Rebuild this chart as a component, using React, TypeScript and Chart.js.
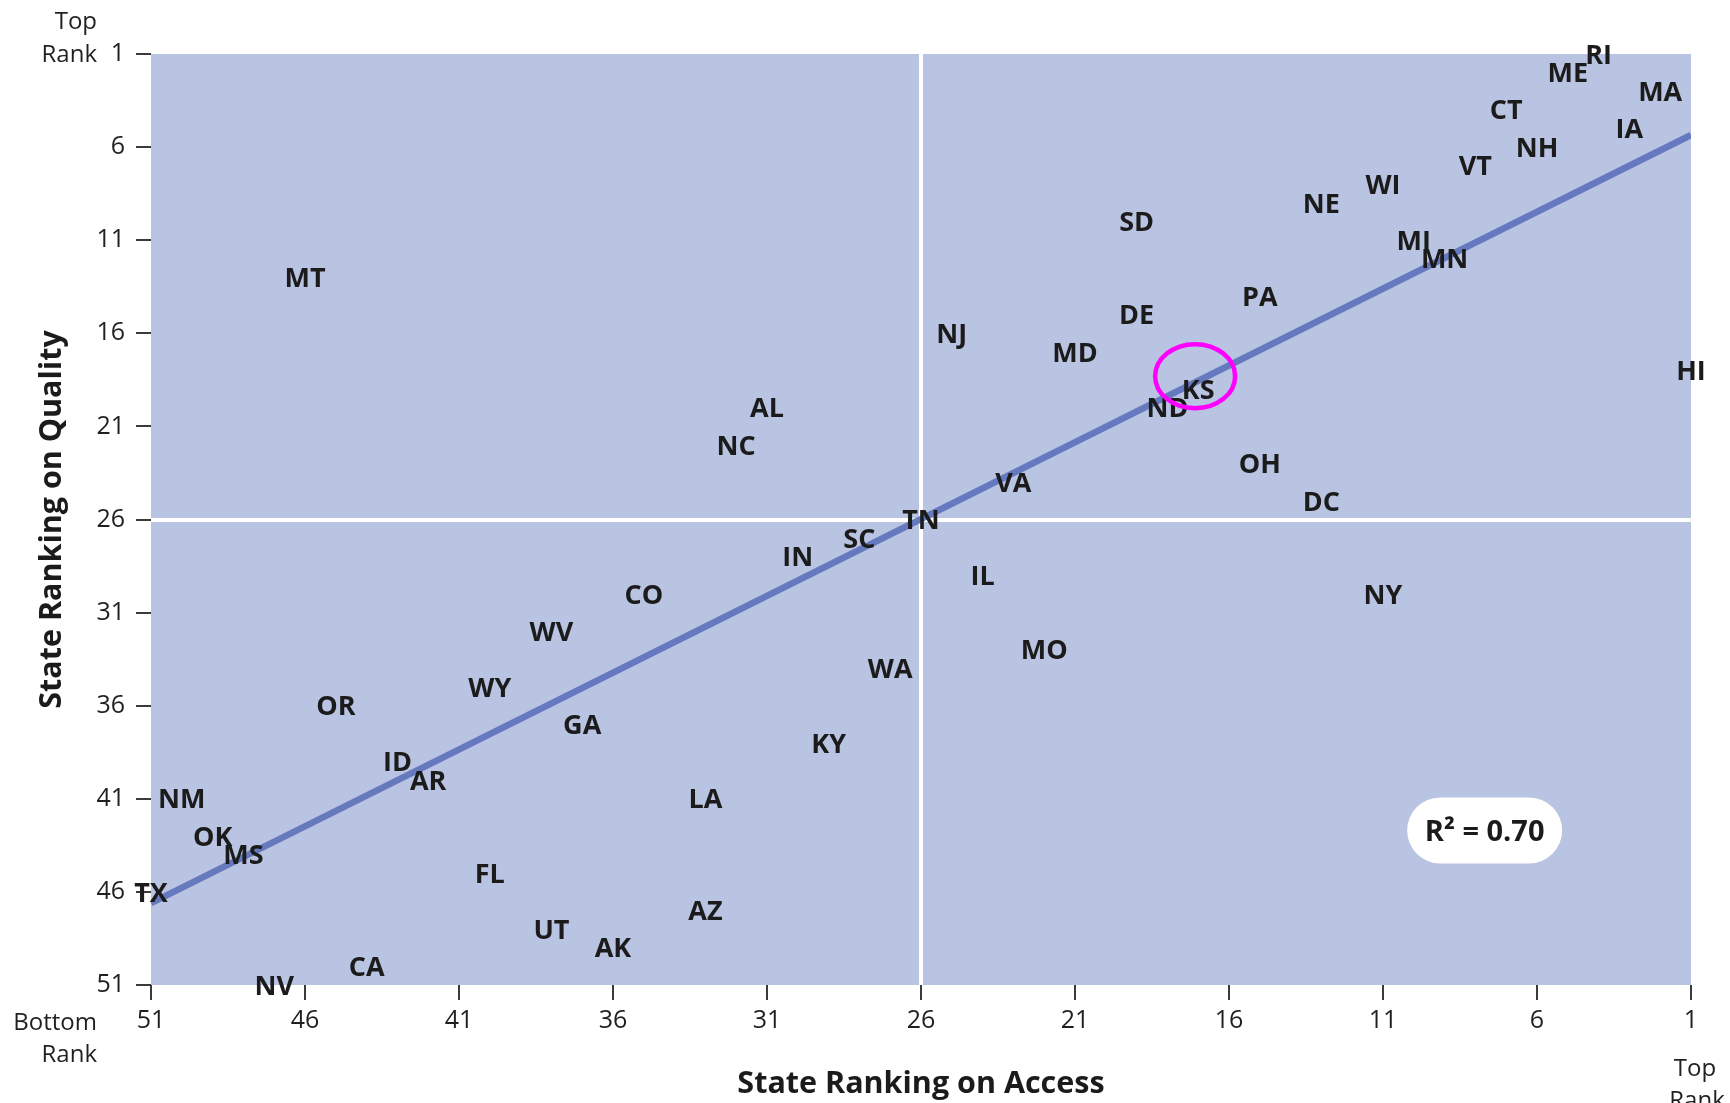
import React, { useEffect, useRef } from "react";
import { Chart, registerables } from "chart.js";

Chart.register(...registerables);

// ---- data ----
const states = [
  "RI", "ME", "MA", "CT", "IA", "NH", "VT", "WI", "NE", "SD",
  "MI", "MN", "MT", "PA", "DE", "NJ", "MD", "HI", "KS", "ND",
  "AL", "NC", "OH", "VA", "DC", "TN", "SC", "IN", "IL", "CO",
  "NY", "WV", "MO", "WA", "WY", "OR", "GA", "KY", "ID", "AR",
  "NM", "LA", "OK", "MS", "FL", "TX", "AZ", "UT", "AK", "CA", "NV",
];
const accessRank = [
  4, 5, 2, 7, 3, 6, 8, 11, 13, 19,
  10, 9, 46, 15, 19, 25, 21, 1, 17, 18,
  31, 32, 15, 23, 13, 26, 28, 30, 24, 35,
  11, 38, 22, 27, 40, 45, 37, 29, 43, 42,
  50, 33, 49, 48, 40, 51, 33, 38, 36, 44, 47,
];
const qualityRank = [
  1, 2, 3, 4, 5, 6, 7, 8, 9, 10,
  11, 12, 13, 14, 15, 16, 17, 18, 19, 20,
  20, 22, 23, 24, 25, 26, 27, 28, 29, 30,
  30, 32, 33, 34, 35, 36, 37, 38, 39, 40,
  41, 41, 43, 44, 45, 46, 47, 48, 49, 50, 51,
];
const tickValues = [1, 6, 11, 16, 21, 26, 31, 36, 41, 46, 51];
const fitAccess = [51, 1];
const fitQuality = [46.6, 5.35];
const rSquaredText = "R\u00B2 = 0.70";
const midRank = 26;
const xTitle = "State Ranking on Access";
const yTitle = "State Ranking on Quality";

// ---- styles ----
const FONT = "'Open Sans', 'DejaVu Sans', sans-serif";
const TEXT = "#1c1b1b";
const TICK_TEXT = "#231f20";
const BG = "rgb(185,195,226)";
const LINE = "rgb(101,122,190)";
const MAGENTA = "#ff00ff";

const W = 1730;
const H = 1103;

export default function App() {
  const ref = useRef<HTMLCanvasElement | null>(null);

  useEffect(() => {
    document.body.style.margin = "0";
    const canvas = ref.current;
    if (!canvas) return;

    const bgPlugin = {
      id: "bgPlugin",
      beforeDraw(chart: any) {
        const { ctx, chartArea } = chart;
        ctx.save();
        ctx.fillStyle = BG;
        ctx.fillRect(chartArea.left, chartArea.top, chartArea.right - chartArea.left, chartArea.bottom - chartArea.top);
        ctx.restore();
      },
    };

    const labelPlugin = {
      id: "labelPlugin",
      afterDatasetsDraw(chart: any) {
        const { ctx } = chart;
        const meta = chart.getDatasetMeta(1);
        const size = 27;
        ctx.save();
        ctx.font = `700 ${size}px ${FONT}`;
        ctx.fillStyle = TEXT;
        ctx.textAlign = "center";
        ctx.textBaseline = "alphabetic";
        meta.data.forEach((el: any, i: number) => {
          ctx.fillText(states[i], el.x, el.y + size * 0.357);
        });
        ctx.restore();
      },
      afterDraw(chart: any) {
        const { ctx, scales } = chart;
        const xs = scales.x;
        const ys = scales.y;
        ctx.save();
        // highlight ellipse around KS
        const cx = xs.getPixelForValue(17.1);
        const cy = ys.getPixelForValue(18.3);
        ctx.beginPath();
        ctx.ellipse(cx, cy, 40, 32, 0, 0, Math.PI * 2);
        ctx.strokeStyle = MAGENTA;
        ctx.lineWidth = 4.5;
        ctx.stroke();

        // R^2 pill
        const px = xs.getPixelForValue(7.7);
        const py = ys.getPixelForValue(42.7);
        const bw = 155;
        const bh = 66;
        const r = bh / 2;
        ctx.beginPath();
        ctx.moveTo(px - bw / 2 + r, py - bh / 2);
        ctx.lineTo(px + bw / 2 - r, py - bh / 2);
        ctx.arc(px + bw / 2 - r, py, r, -Math.PI / 2, Math.PI / 2);
        ctx.lineTo(px - bw / 2 + r, py + bh / 2);
        ctx.arc(px - bw / 2 + r, py, r, Math.PI / 2, (Math.PI * 3) / 2);
        ctx.closePath();
        ctx.fillStyle = "#ffffff";
        ctx.fill();
        ctx.font = `700 29px ${FONT}`;
        ctx.fillStyle = TEXT;
        ctx.textAlign = "center";
        ctx.textBaseline = "alphabetic";
        ctx.fillText(rSquaredText, px, py + 29 * 0.357);

        // "Top Rank" / "Bottom Rank" axis-end notes
        ctx.font = `400 24px ${FONT}`;
        ctx.fillStyle = TICK_TEXT;
        ctx.textAlign = "right";
        const yTop = ys.getPixelForValue(1);
        ctx.fillText("Top", 97, yTop - 25);
        ctx.fillText("Rank", 97, yTop + 8);
        ctx.fillText("Bottom", 97, 1030);
        ctx.fillText("Rank", 97, 1062);
        ctx.textAlign = "center";
        const xTop = xs.getPixelForValue(1);
        ctx.fillText("Top", xTop + 4, 1076);
        ctx.fillText("Rank", xTop + 6, 1108);
        ctx.restore();
      },
    };

    const gridColor = (c: any) => (c.tick && c.tick.value === midRank ? "#ffffff" : "rgba(0,0,0,0)");
    const gridWidth = (c: any) => (c.tick && c.tick.value === midRank ? 4 : 0);

    const chart = new Chart(canvas, {
      type: "scatter",
      data: {
        datasets: [
          {
            type: "line",
            label: "fit",
            data: fitAccess.map((x, i) => ({ x, y: fitQuality[i] })),
            borderColor: LINE,
            borderWidth: 6.5,
            pointRadius: 0,
            fill: false,
            tension: 0,
            clip: 0,
          } as any,
          {
            label: "states",
            data: states.map((_, i) => ({ x: accessRank[i], y: qualityRank[i] })),
            pointRadius: 0,
            showLine: false,
          },
        ],
      },
      options: {
        animation: false,
        responsive: false,
        devicePixelRatio: 1,
        events: [],
        layout: { padding: { top: 54, right: 39, left: 0, bottom: 0 } },
        plugins: { legend: { display: false }, tooltip: { enabled: false } },
        scales: {
          x: {
            type: "linear",
            reverse: true,
            min: 1,
            max: 51,
            afterBuildTicks: (s: any) => {
              s.ticks = tickValues.map((v) => ({ value: v }));
            },
            afterFit: (s: any) => {
              s.height = 118;
            },
            border: { display: false },
            grid: {
              drawOnChartArea: true,
              drawTicks: true,
              color: gridColor,
              lineWidth: gridWidth,
              tickColor: "#3a3a3a",
              tickWidth: 2,
              tickLength: 15,
            },
            ticks: {
              font: { family: FONT, size: 25 },
              color: TICK_TEXT,
              padding: 6,
              maxRotation: 0,
              autoSkip: false,
              callback: (v: any) => String(v),
            },
            title: {
              display: true,
              text: xTitle,
              font: { family: FONT, size: 30.5, weight: "bold" },
              color: TEXT,
              padding: { top: 0, bottom: 0 },
            },
          },
          y: {
            type: "linear",
            reverse: true,
            min: 1,
            max: 51,
            afterBuildTicks: (s: any) => {
              s.ticks = tickValues.map((v) => ({ value: v }));
            },
            afterFit: (s: any) => {
              s.width = 151;
            },
            border: { display: false },
            grid: {
              drawOnChartArea: true,
              drawTicks: true,
              color: gridColor,
              lineWidth: gridWidth,
              tickColor: "#3a3a3a",
              tickWidth: 2,
              tickLength: 15,
            },
            ticks: {
              font: { family: FONT, size: 25 },
              color: TICK_TEXT,
              padding: 11,
              autoSkip: false,
              callback: (v: any) => String(v),
            },
            title: {
              display: true,
              text: yTitle,
              font: { family: FONT, size: 30.5, weight: "bold" },
              color: TEXT,
              padding: { top: 34, bottom: 0 },
            },
          },
        },
      } as any,
      plugins: [bgPlugin, labelPlugin],
    });

    return () => {
      chart.destroy();
    };
  }, []);

  return (
    <div style={{ position: "absolute", left: 0, top: 0, width: W, height: H, overflow: "hidden", background: "#fff" }}>
      <canvas ref={ref} width={W} height={H} style={{ width: W, height: H, display: "block" }} />
    </div>
  );
}
